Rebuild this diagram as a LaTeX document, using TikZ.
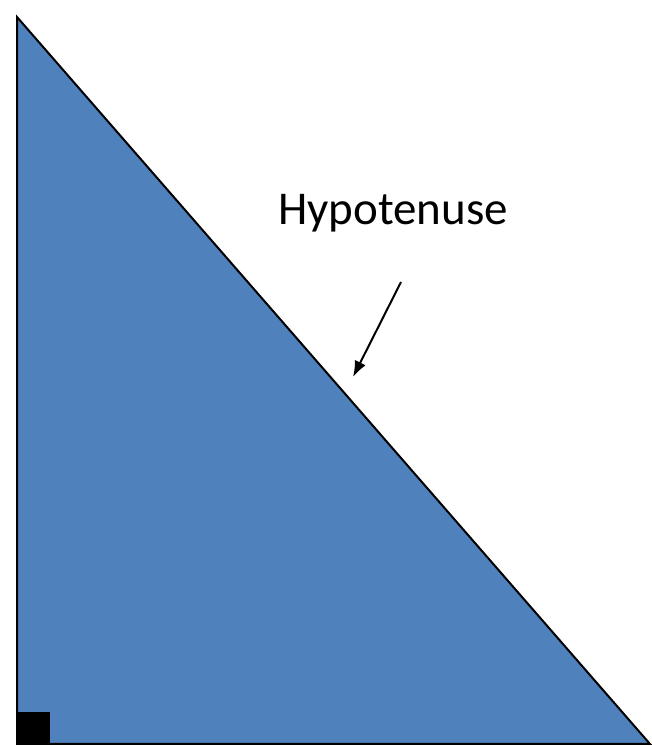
\documentclass[tikz,border=0pt]{standalone}
\usepackage{fontspec}
\setmainfont{Carlito}
\usepackage{xcolor}
\usetikzlibrary{arrows.meta,positioning,calc}
\definecolor{triblue}{RGB}{79,129,189}
\tikzset{
  tri/.style={draw, line width=2pt, fill=triblue, line join=miter},
  corner/.style={fill=black},
  lbl/.style={font=\fontsize{47}{56}\selectfont, inner sep=0pt, anchor=base},
  flow/.style={-{Latex[length=16pt, width=12pt]}, line width=2pt},
}

\begin{document}
\begin{tikzpicture}[x=1pt, y=1pt]
  \useasboundingbox (0,0) rectangle (651,746);
  \coordinate (top) at (17,729);
  \coordinate (origin) at (17,2);
  \coordinate (right) at (650,2);
  \draw[tri] (top) -- (origin) -- (right) -- cycle;
  \fill[corner] (origin) rectangle ++(33,32);
  \node[lbl] (hyp) at (393,521) {Hypotenuse};
  \coordinate (tail) at (401,464);
  \coordinate (tip) at (353,369);
  \draw[flow] (tail) -- (tip);
\end{tikzpicture}
\end{document}
